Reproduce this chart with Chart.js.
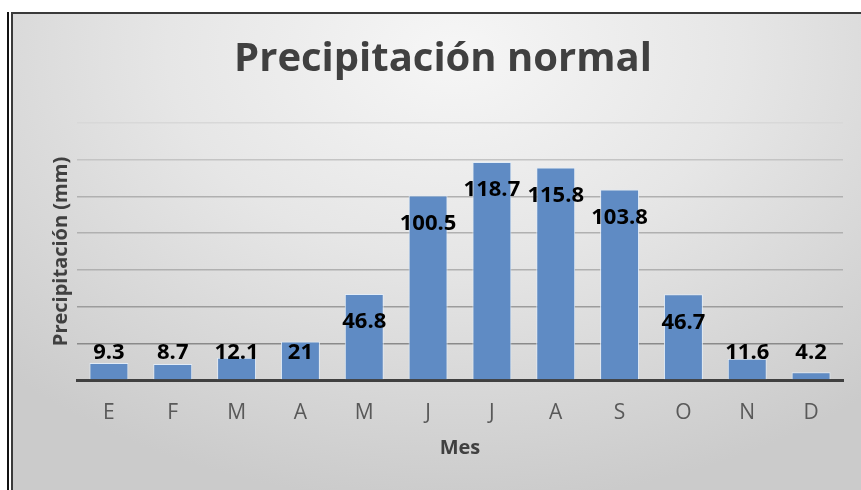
<!DOCTYPE html>
<html>
<head>
<meta charset="utf-8">
<script src="https://cdn.jsdelivr.net/npm/chart.js@4.4.1/dist/chart.umd.min.js"></script>
<style>
  html, body { margin: 0; padding: 0; background: #fff; }
  #wrap { position: relative; width: 861px; height: 490px; overflow: hidden; }
  #fondo {
    position: absolute; left: 11px; top: 12px; right: 0; bottom: 0;
    border-left: 2px solid #3a3a3a; border-top: 2px solid #3a3a3a;
    background: radial-gradient(ellipse 75% 95% at 52% 8%, #f6f6f6 0%, #e6e6e6 45%, #cbcbcb 100%);
  }
  #linea { position: absolute; left: 7px; top: 12px; width: 2px; bottom: 0; background: #111; }
  #graficoPrecip { position: absolute; left: 0; top: 0; }
</style>
</head>
<body>
<div id="wrap">
  <div id="linea"></div>
  <div id="fondo"></div>
  <canvas id="graficoPrecip" width="861" height="490"></canvas>
</div>
<script>
// datos
const meses = ['E', 'F', 'M', 'A', 'M', 'J', 'J', 'A', 'S', 'O', 'N', 'D'];
const precipitacion = [9.3, 8.7, 12.1, 21, 46.8, 100.5, 118.7, 115.8, 103.8, 46.7, 11.6, 4.2];
const etiquetas = ['9.3', '8.7', '12.1', '21', '46.8', '100.5', '118.7', '115.8', '103.8', '46.7', '11.6', '4.2'];

const fuente = "'Open Sans', 'DejaVu Sans', sans-serif";

// etiquetas de datos dentro de la barra (arriba), o encima si la barra es chica
const etiquetasPlugin = {
    id: 'etiquetas',
    afterDatasetsDraw(chart) {
        const ctx = chart.ctx;
        const meta = chart.getDatasetMeta(0);
        ctx.save();
        ctx.font = 'bold 22px ' + fuente;
        ctx.fillStyle = '#000';
        ctx.textAlign = 'center';
        ctx.textBaseline = 'middle';
        meta.data.forEach((bar, i) => {
            const y = Math.min(bar.y + 28, bar.base - 27);
            ctx.fillText(etiquetas[i], bar.x, y);
        });
        ctx.restore();
    }
};

const ctxPrecip = document.getElementById('graficoPrecip');

let precipChart = new Chart(ctxPrecip, {
    type: 'bar',
    data: {
        labels: meses,
        datasets: [{
            label: 'Precipitación normal',
            data: precipitacion,
            backgroundColor: '#5f8bc4',
            borderColor: 'rgba(226,236,248,0.95)',
            borderWidth: 1,
            barPercentage: 0.61,
            categoryPercentage: 1
        }]
    },
    options: {
        responsive: false,
        animation: false,
        layout: { padding: { left: 43, right: 18, top: 0, bottom: 0 } },
        plugins: {
            legend: { display: false },
            tooltip: { enabled: false },
            title: {
                display: true,
                text: 'Precipitación normal',
                color: '#404040',
                font: { family: fuente, size: 40, weight: 'bold', lineHeight: 1.2 },
                padding: { top: 36, bottom: 39 }
            }
        },
        scales: {
            x: {
                grid: { display: false },
                border: { display: true, color: '#404040', width: 3 },
                ticks: {
                    color: '#595959',
                    padding: 12,
                    font: { family: fuente, size: 21 }
                },
                title: {
                    display: true,
                    text: 'Mes',
                    color: '#404040',
                    font: { family: fuente, size: 20, weight: 'bold', lineHeight: 1.2 },
                    padding: { top: 0, bottom: 30 }
                },
                afterFit(scale) { scale.height = 110; }
            },
            y: {
                min: 0,
                max: 140,
                ticks: { display: false, stepSize: 20 },
                border: { display: false },
                grid: {
                    drawTicks: false,
                    lineWidth: 1.5,
                    color(c) {
                        const v = c.tick.value;
                        if (v === 0) return 'rgba(0,0,0,0)';
                        if (v <= 20) return '#8a8a8a';
                        if (v <= 40) return '#9c9c9c';
                        if (v >= 140) return '#d8d8d8';
                        if (v >= 120) return '#c4c4c4';
                        return '#b0b0b0';
                    }
                },
                title: {
                    display: true,
                    text: 'Precipitación (mm)',
                    color: '#404040',
                    font: { family: fuente, size: 20, weight: 'bold', lineHeight: 1.2 },
                    padding: { top: 6, bottom: 0 }
                },
                afterFit(scale) { scale.width = 34; }
            }
        }
    },
    plugins: [etiquetasPlugin]
});
</script>
</body>
</html>
